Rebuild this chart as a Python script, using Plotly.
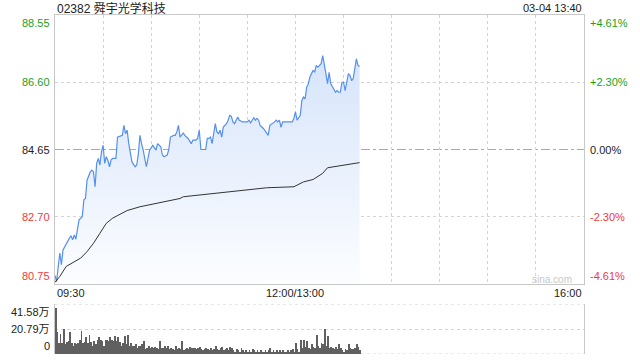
import plotly.graph_objects as go

# ---------------- data ----------------
title_text = "02382 舜宇光学科技"
stamp_text = "03-04 13:40"
prev_close = 84.65

price_ticks = [88.55, 86.60, 84.65, 82.70, 80.75]
pct_ticks = ["+4.61%", "+2.30%", "0.00%", "-2.30%", "-4.61%"]
time_tick_minutes = [0, 150, 330]
time_tick_labels = ["09:30", "12:00/13:00", "16:00"]
volume_ticks = [41.58, 20.79, 0]
volume_tick_labels = ["41.58万", "20.79万", "0"]

# minutes since 09:30 (lunch break removed) and price
price_minutes = [0, 1, 3, 4, 5, 7, 9, 10, 11, 12, 13, 15, 17, 18, 19, 20, 21, 22, 23, 24,
                 25, 26, 27, 28, 29, 30, 31, 32, 33, 34, 35, 36, 38, 39, 42, 43, 44, 45, 46, 47,
                 48, 50, 51, 52, 53, 54, 55, 57, 58, 59, 61, 63, 64, 66, 67, 68, 70, 71, 72, 74,
                 75, 76, 77, 78, 80, 81, 83, 85, 86, 88, 89, 90, 91, 94, 95, 96, 97, 98, 99, 100,
                 101, 102, 103, 104, 105, 106, 107, 108, 109, 110, 111, 112, 113, 114, 115, 117, 120, 121, 122, 124,
                 125, 126, 127, 128, 130, 132, 133, 134, 136, 137, 138, 139, 140, 141, 142, 145, 148, 149, 150, 151,
                 153, 154, 155, 156, 157, 158, 159, 160, 161, 162, 163, 164, 165, 166, 167, 168, 169, 170, 171, 172,
                 175, 176, 177, 178, 179, 180, 181, 182, 183, 184, 185, 186, 187, 188, 189, 190]
price_values = [81.00, 80.82, 81.65, 81.31, 81.74, 81.93, 82.08, 82.15, 82.03, 82.17, 82.05, 82.61, 82.70, 83.19, 83.23, 83.76, 83.91, 84.00, 84.05, 84.00,
                83.57, 84.25, 84.39, 84.20, 84.58, 84.77, 84.25, 84.44, 84.33, 84.15, 84.35, 84.39, 84.39, 85.01, 85.06, 85.35, 85.11, 85.21, 84.82, 84.53,
                84.29, 84.15, 84.20, 84.53, 85.06, 84.82, 84.63, 84.15, 84.44, 84.63, 84.77, 84.63, 84.82, 84.73, 84.49, 84.44, 84.49, 84.65, 85.01, 85.06,
                85.06, 85.16, 85.35, 85.01, 85.13, 85.06, 84.97, 84.82, 84.92, 84.92, 84.97, 85.21, 84.65, 84.65, 84.97, 84.97, 85.01, 84.82, 85.11, 85.40,
                85.16, 85.11, 85.21, 85.01, 85.30, 85.35, 85.40, 85.50, 85.64, 85.61, 85.45, 85.40, 85.50, 85.59, 85.50, 85.45, 85.45, 85.50, 85.42, 85.57,
                85.50, 85.55, 85.50, 85.35, 85.26, 85.11, 85.06, 85.35, 85.40, 85.45, 85.50, 85.45, 85.50, 85.29, 85.45, 85.45, 85.45, 85.55, 85.74, 85.50,
                85.64, 86.07, 86.17, 86.12, 86.46, 86.55, 86.75, 86.85, 86.94, 86.90, 87.09, 87.04, 87.09, 87.14, 87.37, 87.14, 86.85, 86.56, 86.89, 86.56,
                86.31, 86.36, 86.31, 86.31, 86.60, 86.60, 86.36, 86.60, 86.85, 86.80, 86.65, 86.70, 87.04, 87.28, 87.09, 87.06]

avg_minutes = [0, 3, 7, 12, 16, 20, 24, 28, 32, 36, 45, 53, 66, 78, 80, 90, 101, 111, 122, 132,
               149, 155, 161, 167, 170, 178, 184, 190]
avg_values = [80.80, 80.97, 81.26, 81.40, 81.50, 81.69, 81.93, 82.22, 82.51, 82.66, 82.88, 82.99, 83.11, 83.23, 83.28, 83.33, 83.40, 83.45, 83.50, 83.54,
              83.57, 83.71, 83.78, 83.96, 84.12, 84.18, 84.23, 84.27]

# volume per minute, in 万 shares
volume_values = [38, 18, 9, 17, 9, 21, 8, 10, 11, 18,
                 9, 7, 9, 8, 9, 12, 19, 9, 10, 14,
                 9, 16, 10, 7, 11, 8, 12, 14, 12, 11,
                 7, 12, 12, 11, 14, 12, 11, 15, 11, 14,
                 10, 7, 9, 15, 8, 16, 7, 9, 7, 7,
                 8, 5, 7, 7, 8, 11, 4, 5, 7, 5,
                 6, 5, 6, 5, 4, 11, 5, 5, 7, 5,
                 7, 4, 5, 4, 3, 7, 4, 5, 4, 11,
                 3, 4, 5, 4, 6, 5, 5, 5, 4, 5,
                 6, 4, 3, 4, 5, 4, 3, 5, 3, 4,
                 7, 4, 3, 5, 6, 3, 4, 5, 3, 6,
                 5, 3, 2, 4, 3, 2, 5, 3, 2, 3,
                 2, 3, 2, 4, 3, 2, 3, 2, 3, 2,
                 2, 3, 2, 3, 5, 2, 3, 2, 3, 2,
                 3, 2, 3, 2, 2, 3, 2, 3, 4, 2,
                 9, 4, 2, 12, 5, 12, 6, 11, 5, 4,
                 8, 6, 5, 16, 7, 5, 9, 8, 21, 7,
                 15, 5, 6, 5, 4, 6, 4, 8, 5, 3,
                 2, 4, 3, 8, 5, 4, 4, 5, 8, 6,
                 3]
volume_minutes = list(range(len(volume_values)))

# ---------------- style ----------------
W, H = 640, 360
FONT = "Liberation Sans, Arial, Noto Sans CJK SC, sans-serif"
GREEN = "#1a9f1a"
RED = "#ee3b3b"
BLACK = "#222222"
GRID = "#d4d4d4"
BOX = "#c8c8c8"

def px_x(p):
    return p / W

def px_y(p):
    return 1 - p / H

x_dom = [px_x(55), px_x(584)]
main_dom = [px_y(284), px_y(15)]
vol_dom = [px_y(354), px_y(304)]

fig = go.Figure()

fig.add_trace(go.Scatter(
    x=price_minutes, y=price_values, mode="lines",
    line=dict(color="#5590ec", width=1.2),
    fill="tozeroy",
    fillgradient=dict(type="vertical", start=price_ticks[-1], stop=max(price_values),
                      colorscale=[[0, "rgba(252,253,255,1)"], [1, "rgba(214,228,250,1)"]]),
    hoverinfo="skip", xaxis="x", yaxis="y"))

fig.add_trace(go.Scatter(
    x=avg_minutes, y=avg_values, mode="lines",
    line=dict(color="#333333", width=1),
    hoverinfo="skip", xaxis="x", yaxis="y"))

fig.add_trace(go.Bar(
    x=volume_minutes, y=volume_values, width=0.5,
    marker=dict(color="#606060", line=dict(width=0)),
    hoverinfo="skip", xaxis="x2", yaxis="y2"))

fig.update_layout(
    width=W, height=H, margin=dict(l=0, r=0, t=0, b=0),
    paper_bgcolor="white", plot_bgcolor="rgba(0,0,0,0)",
    showlegend=False, bargap=0,
    font=dict(family=FONT, size=11, color=BLACK),
    xaxis=dict(domain=x_dom, range=[0, 330], anchor="y",
               tickvals=list(range(30, 330, 30)), showticklabels=False, ticks="",
               showgrid=True, gridcolor=GRID, griddash="dot", gridwidth=1,
               showline=True, linecolor=BOX, mirror=True, zeroline=False, fixedrange=True),
    yaxis=dict(domain=main_dom, range=[price_ticks[-1], price_ticks[0]], anchor="x",
               tickvals=[price_ticks[1], price_ticks[3]], showticklabels=False, ticks="",
               showgrid=True, gridcolor=GRID, griddash="dot", gridwidth=1,
               showline=True, linecolor=BOX, mirror=True, zeroline=False, fixedrange=True),
    xaxis2=dict(domain=x_dom, range=[-0.5, 330], anchor="y2",
                showticklabels=False, ticks="", showgrid=False, showline=False,
                zeroline=False, fixedrange=True),
    yaxis2=dict(domain=vol_dom, range=[0, volume_ticks[0]], anchor="x2",
                tickvals=[volume_ticks[1]], showticklabels=False, ticks="",
                showgrid=True, gridcolor=GRID, griddash="dot", gridwidth=1,
                showline=True, linecolor=BOX, mirror=True, zeroline=False, fixedrange=True),
)

# previous-close reference line
fig.add_shape(type="line", xref="x", yref="y", x0=0, x1=330, y0=prev_close, y1=prev_close,
              line=dict(color="#aaaaaa", width=1, dash="dashdot"), layer="below")
# dotted top / bottom edges of the volume panel
for v in (volume_ticks[0], volume_ticks[2]):
    fig.add_shape(type="line", xref="x2 domain", yref="y2", x0=0, x1=1, y0=v, y1=v,
                  line=dict(color=GRID, width=1, dash="dot"), layer="below")

ann = []
# title and timestamp
ann.append(dict(x=x_dom[0], y=px_y(8), xref="paper", yref="paper", text=title_text,
                xanchor="left", yanchor="middle", showarrow=False, font=dict(size=12, color=BLACK)))
ann.append(dict(x=x_dom[1], y=px_y(8), xref="paper", yref="paper", text=stamp_text,
                xanchor="right", yanchor="middle", showarrow=False, font=dict(size=11, color=BLACK)))

# price / percent labels
label_colors = [GREEN, GREEN, BLACK, RED, RED]
anchors = ["top", "middle", "middle", "middle", "bottom"]
for v, pct, c, a in zip(price_ticks, pct_ticks, label_colors, anchors):
    ann.append(dict(x=px_x(52), y=v, xref="paper", yref="y", text=f"{v:.2f}",
                    xanchor="right", yanchor=a, showarrow=False, font=dict(size=11, color=c)))
    ann.append(dict(x=px_x(588), y=v, xref="paper", yref="y", text=pct,
                    xanchor="left", yanchor=a, showarrow=False, font=dict(size=11, color=c)))

# time labels
t_anchor = ["left", "center", "right"]
for m, lab, a in zip(time_tick_minutes, time_tick_labels, t_anchor):
    ann.append(dict(x=m, y=px_y(293), xref="x", yref="paper", text=lab,
                    xanchor=a, yanchor="middle", showarrow=False, font=dict(size=11, color=BLACK)))

# volume labels
v_anchor = ["top", "middle", "bottom"]
for v, lab, a in zip(volume_ticks, volume_tick_labels, v_anchor):
    ann.append(dict(x=px_x(52), y=v, xref="paper", yref="y2", text=lab,
                    xanchor="right", yanchor=a, showarrow=False, font=dict(size=11, color=BLACK)))

# watermark
ann.append(dict(x=px_x(574), y=px_y(279), xref="paper", yref="paper", text="sina.com",
                xanchor="right", yanchor="middle", showarrow=False, font=dict(size=10, color="#c8c8c8")))

fig.update_layout(annotations=ann)
fig.write_html("out.html")
